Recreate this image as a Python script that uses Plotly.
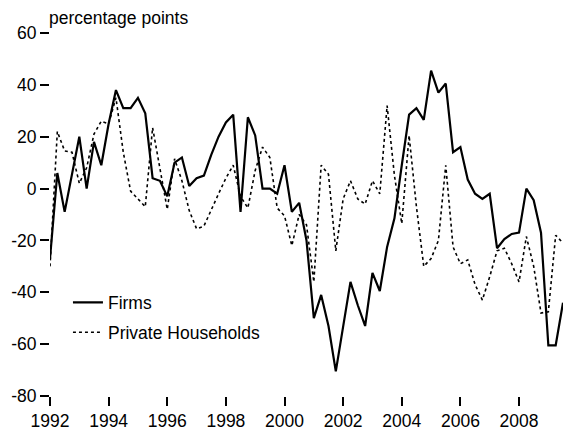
import plotly.graph_objects as go

# Quarterly observations, 1992 Q1 .. 2009 Q3 (decimal years)
quarters = [1992 + i / 4 for i in range(71)]

firms = [
    -27, 6, -9, 6, 20, 0, 18, 9, 25, 38,
    31, 31, 35, 29, 4, 3, -3, 10, 12, 1,
    4, 5, 13, 20, 25.5, 28.5, -9, 27.5, 20.5, 0,
    0, -2, 9, -9, -5.5, -20, -50, -41, -53, -70.5,
    -53, -36, -45, -53, -32.5, -39.5, -22.5, -11.5, 9, 28.5,
    31, 26.5, 45.5, 37, 40.5, 14, 16, 3.5, -2, -4,
    -2, -23, -19.5, -17.5, -17, 0, -4.5, -17, -60.5, -60.5,
    -44,
]

households = [
    -30, 22, 14.5, 14, 2, 8, 21, 26, 25, 35,
    14, -1, -4, -7, 23.5, 8, -8, 11.5, 3, -8.5,
    -15.5, -14.5, -8, -2, 4, 9, -3, -7.5, 7, 16,
    12, -7.5, -10.5, -22, -10, -14, -36, 9, 5.5, -24,
    -4, 3, -4, -6, 3, -2, 32, 5, -13.5, 20.5,
    -7, -30, -27, -20, 9, -22.5, -29, -27.5, -37, -43,
    -34, -24, -23, -29, -36, -18.5, -30, -48, -47.5, -18,
    -21,
]

x_ticks = [1992, 1994, 1996, 1998, 2000, 2002, 2004, 2006, 2008]
y_ticks = [-80, -60, -40, -20, 0, 20, 40, 60]
y_title = "percentage points"

FONT = "Liberation Sans, Arial, sans-serif"
FS = 17.5

fig = go.Figure()
fig.add_trace(go.Scatter(
    x=quarters, y=firms, mode="lines", name="Firms",
    line=dict(color="black", width=2.2), legendgroup="a",
))
fig.add_trace(go.Scatter(
    x=quarters, y=households, mode="lines", name="Private Households",
    line=dict(color="black", width=1.6, dash="dot"), legendgroup="b",
))

fig.update_layout(
    width=563, height=435,
    margin=dict(l=50, r=0, t=33, b=39, autoexpand=False),
    paper_bgcolor="white", plot_bgcolor="white",
    font=dict(family=FONT, size=FS, color="black"),
    showlegend=True,
    legend=dict(
        x=0.035, y=0.216, xanchor="left", yanchor="middle",
        bgcolor="rgba(0,0,0,0)", tracegroupgap=4,
        font=dict(family=FONT, size=FS, color="black"),
    ),
    xaxis=dict(
        range=[1992, 2009.5], tickmode="array", tickvals=x_ticks,
        ticktext=[str(v) for v in x_ticks], automargin=False,
        showgrid=False, zeroline=False, showline=False,
        ticks="outside", ticklen=9, tickwidth=2, tickcolor="black",
    ),
    yaxis=dict(
        range=[-80, 60], tickmode="array", tickvals=y_ticks,
        ticktext=[str(v) for v in y_ticks], automargin=False,
        showgrid=False, zeroline=False, showline=False,
        ticks="outside", ticklen=9, tickwidth=2, tickcolor="black",
    ),
    annotations=[dict(
        text=y_title, xref="paper", yref="paper", x=0, y=1,
        xanchor="left", yanchor="bottom", showarrow=False,
        font=dict(family=FONT, size=FS, color="black"),
        yshift=3, xshift=-3,
    )],
)

# remove the browser's default 8px page margin so the figure fills the window
fig.write_html(
    "out.html",
    config={"displayModeBar": False},
    post_script="document.body.style.margin='0';document.body.style.overflow='hidden';",
)
